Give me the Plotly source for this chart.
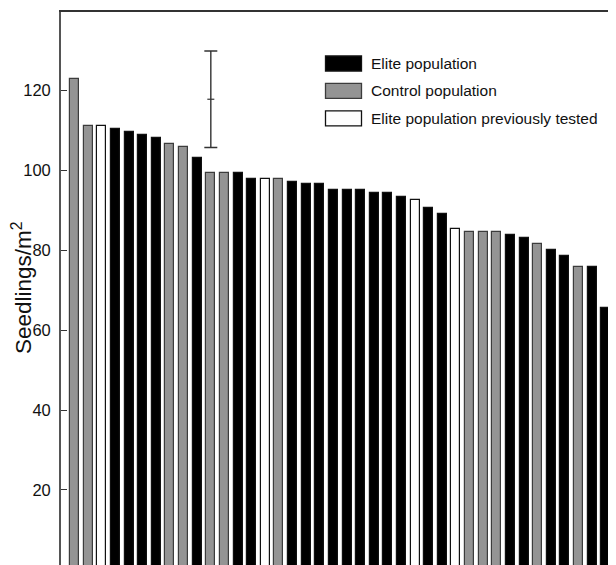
import plotly.graph_objects as go

# ---- data ----
seedlings = [123.0, 111.1, 111.1, 110.5, 109.7, 109.0, 108.2, 106.7, 106.0, 103.2,
             99.4, 99.4, 99.4, 97.9, 97.9, 97.9, 97.2, 96.5, 96.5, 95.0,
             95.0, 95.0, 94.3, 94.3, 93.4, 92.7, 90.6, 89.2, 85.3, 84.6,
             84.6, 84.6, 83.8, 83.2, 81.6, 80.2, 78.7, 75.8, 75.8, 65.5]
groups = ["C", "C", "P", "E", "E", "E", "E", "C", "C", "E",
          "C", "C", "E", "E", "P", "C", "E", "E", "E", "E",
          "E", "E", "E", "E", "E", "P", "E", "E", "P", "C",
          "C", "C", "E", "E", "C", "E", "E", "C", "E", "E"]
group_names = {"E": "Elite population", "C": "Control population",
               "P": "Elite population previously tested"}
yticks = [20, 40, 60, 80, 100, 120]
lsd_x = [11]
lsd_center = [117.85]
lsd_half = [12.1]

styles = {"E": dict(fill="#000000", line="#111111"),
          "C": dict(fill="#949494", line="#3c3c3c"),
          "P": dict(fill="#ffffff", line="#111111")}

# page has an 8px body margin: figure occupies page (8,8)-(616,565)
OFF = 8
W, H = 616 - OFF, 565 - OFF
PAGE_L, PAGE_T = 61, 12          # plot area corner in page pixels
ML, MT = PAGE_L - OFF, PAGE_T - OFF
PW, PH = W - ML, H - MT

def px(x):
    return (x - PAGE_L) / PW

def py(y):
    return 1 - (y - PAGE_T) / PH

fig = go.Figure()
positions = list(range(1, len(seedlings) + 1))
for g in ["E", "C", "P"]:
    xs = [p for p, gg in zip(positions, groups) if gg == g]
    ys = [v for v, gg in zip(seedlings, groups) if gg == g]
    fig.add_trace(go.Bar(x=xs, y=ys, width=0.66, name=group_names[g],
                         marker=dict(color=styles[g]["fill"],
                                     line=dict(color=styles[g]["line"], width=1.2)),
                         showlegend=False))

fig.add_trace(go.Scatter(x=lsd_x, y=lsd_center, mode="markers",
                         marker=dict(symbol="line-ew", size=5,
                                     line=dict(color="#333333", width=1.2)),
                         error_y=dict(type="data", array=lsd_half, visible=True,
                                      color="#333333", thickness=1.4, width=6.5),
                         showlegend=False))

# dummy trace for the right-hand tick axis
fig.add_trace(go.Scatter(x=[1], y=[1], yaxis="y2", mode="markers",
                         marker=dict(opacity=0), showlegend=False,
                         hoverinfo="skip"))

font_reg = "Liberation Sans, Arial, sans-serif"

yrange = [1.2, 139.7]
fig.update_layout(
    width=W, height=H,
    margin=dict(l=ML, r=0, t=MT, b=0, pad=0),
    paper_bgcolor="white", plot_bgcolor="white",
    bargap=0,
    xaxis=dict(range=[0, 40.75], side="top", showline=True, linecolor="#333333",
               linewidth=1.5, ticks="", showticklabels=False, showgrid=False,
               zeroline=False, fixedrange=True),
    yaxis=dict(range=yrange, tickvals=yticks, ticks="inside", ticklen=6,
               tickcolor="#333333", tickwidth=1.2, showline=True,
               linecolor="#555555", linewidth=1.8, showgrid=False, zeroline=False,
               tickfont=dict(family=font_reg, size=16.5, color="#111111"),
               ticklabelstandoff=5),
    yaxis2=dict(range=yrange, tickvals=yticks, overlaying="y", side="right",
                anchor="free", position=1.0, ticks="inside", ticklen=3,
                tickcolor="#333333", tickwidth=1.2, showline=False,
                showticklabels=False, showgrid=False, zeroline=False),
)

# y-axis title
fig.add_annotation(text="Seedlings/m<sup>2</sup>", xref="paper", yref="paper",
                   x=px(22), y=py(288), xanchor="center", yanchor="middle",
                   textangle=-90, showarrow=False,
                   font=dict(family=font_reg, size=22.5, color="#111111"))

# legend drawn as shapes + text
legend_rows = [("E", 63.5), ("C", 90.8), ("P", 118.3)]
for g, yc in legend_rows:
    fig.add_shape(type="rect", xref="paper", yref="paper",
                  x0=px(325.5), x1=px(361.5), y0=py(yc - 7.5), y1=py(yc + 7.5),
                  fillcolor=styles[g]["fill"],
                  line=dict(color=styles[g]["line"], width=1.3))
    fig.add_annotation(text=group_names[g], xref="paper", yref="paper",
                       x=px(369), y=py(yc), xanchor="left", yanchor="middle",
                       showarrow=False,
                       font=dict(family=font_reg, size=15.5, color="#111111"))

fig.write_html("out.html")
